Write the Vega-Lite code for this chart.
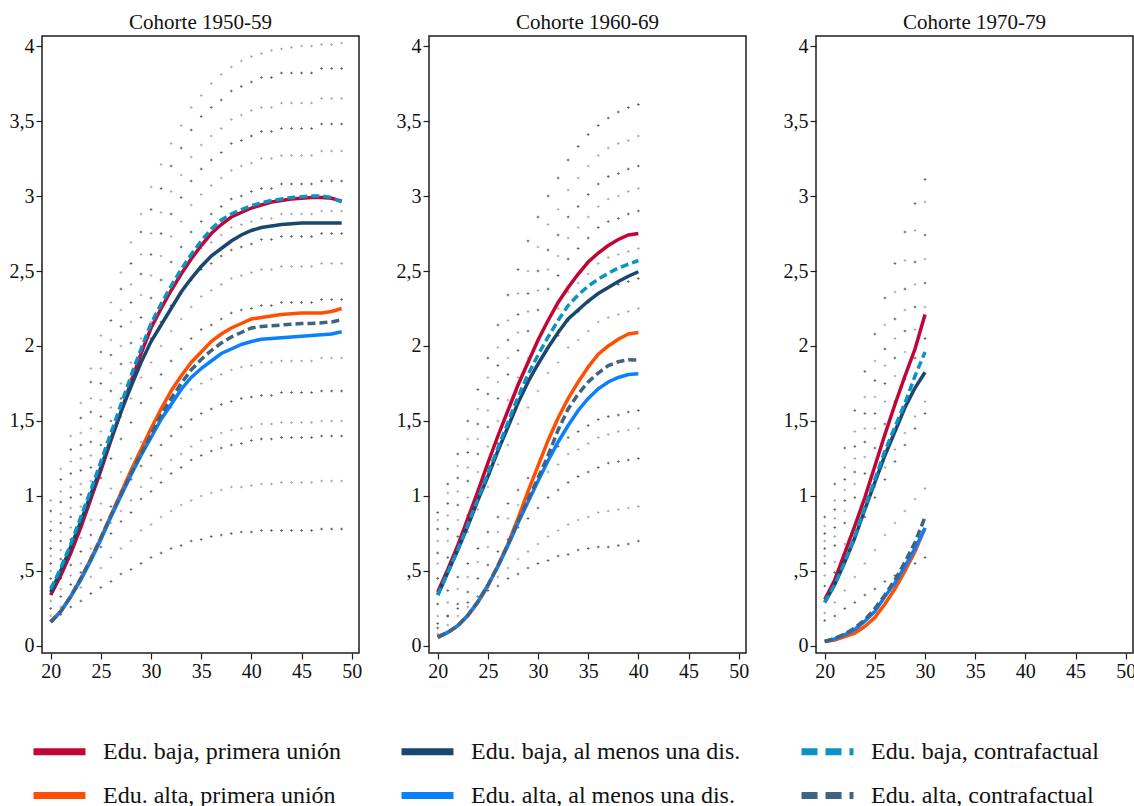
{
  "$schema": "https://vega.github.io/schema/vega-lite/v6.json",
  "padding": {"left": 8, "top": 12, "right": 0, "bottom": 0},
  "config": {
    "font": "Liberation Serif",
    "view": {"stroke": "#1e1e1e", "strokeWidth": 1.5},
    "axis": {"grid": false, "domain": false, "tickColor": "#1e1e1e", "tickSize": 6, "tickWidth": 1.2, "labelColor": "#111111", "labelFontSize": 20, "labelPadding": 2, "title": null}
  },
  "data": {"values": [
    {"c":"1950-59","a":20,"rb":0.34,"ra":0.16,"db":0.36,"da":0.16,"cb":0.38,"ca":0.16,"g1":0.17,"g2":0.20,"g3":0.25,"g4":0.30,"g5":0.35,"g6":0.40,"g7":0.45,"g8":0.50,"g9":0.55,"g10":0.60,"g11":0.65,"g12":0.70,"g13":0.77,"g14":0.83,"g15":0.90,"g16":0.97},
    {"c":"1950-59","a":21,"rb":0.47,"ra":0.23,"db":0.50,"da":0.23,"cb":0.52,"ca":0.23,"g1":0.21,"g2":0.26,"g3":0.33,"g4":0.38,"g5":0.45,"g6":0.51,"g7":0.58,"g8":0.64,"g9":0.70,"g10":0.76,"g11":0.82,"g12":0.88,"g13":0.96,"g14":1.03,"g15":1.11,"g16":1.18},
    {"c":"1950-59","a":22,"rb":0.62,"ra":0.33,"db":0.66,"da":0.33,"cb":0.68,"ca":0.33,"g1":0.26,"g2":0.33,"g3":0.41,"g4":0.47,"g5":0.54,"g6":0.61,"g7":0.71,"g8":0.79,"g9":0.86,"g10":0.92,"g11":0.99,"g12":1.06,"g13":1.15,"g14":1.23,"g15":1.31,"g16":1.40},
    {"c":"1950-59","a":23,"rb":0.79,"ra":0.45,"db":0.83,"da":0.44,"cb":0.86,"ca":0.45,"g1":0.30,"g2":0.39,"g3":0.49,"g4":0.55,"g5":0.63,"g6":0.72,"g7":0.84,"g8":0.93,"g9":1.01,"g10":1.08,"g11":1.17,"g12":1.25,"g13":1.34,"g14":1.42,"g15":1.52,"g16":1.62},
    {"c":"1950-59","a":24,"rb":0.98,"ra":0.58,"db":1.01,"da":0.57,"cb":1.04,"ca":0.58,"g1":0.35,"g2":0.46,"g3":0.58,"g4":0.65,"g5":0.74,"g6":0.84,"g7":0.99,"g8":1.10,"g9":1.19,"g10":1.27,"g11":1.36,"g12":1.45,"g13":1.56,"g14":1.65,"g15":1.76,"g16":1.85},
    {"c":"1950-59","a":25,"rb":1.17,"ra":0.72,"db":1.19,"da":0.71,"cb":1.23,"ca":0.72,"g1":0.39,"g2":0.52,"g3":0.66,"g4":0.73,"g5":0.84,"g6":0.95,"g7":1.12,"g8":1.24,"g9":1.34,"g10":1.43,"g11":1.53,"g12":1.64,"g13":1.75,"g14":1.85,"g15":1.96,"g16":2.07},
    {"c":"1950-59","a":26,"rb":1.37,"ra":0.87,"db":1.38,"da":0.86,"cb":1.42,"ca":0.87,"g1":0.43,"g2":0.59,"g3":0.75,"g4":0.82,"g5":0.93,"g6":1.05,"g7":1.25,"g8":1.38,"g9":1.50,"g10":1.59,"g11":1.70,"g12":1.82,"g13":1.94,"g14":2.04,"g15":2.17,"g16":2.29},
    {"c":"1950-59","a":27,"rb":1.56,"ra":1.02,"db":1.56,"da":1.00,"cb":1.61,"ca":1.01,"g1":0.48,"g2":0.65,"g3":0.83,"g4":0.90,"g5":1.03,"g6":1.16,"g7":1.38,"g8":1.53,"g9":1.65,"g10":1.75,"g11":1.88,"g12":2.00,"g13":2.13,"g14":2.24,"g15":2.38,"g16":2.49},
    {"c":"1950-59","a":28,"rb":1.76,"ra":1.17,"db":1.73,"da":1.14,"cb":1.80,"ca":1.15,"g1":0.51,"g2":0.70,"g3":0.89,"g4":0.97,"g5":1.11,"g6":1.25,"g7":1.49,"g8":1.65,"g9":1.78,"g10":1.89,"g11":2.02,"g12":2.16,"g13":2.29,"g14":2.41,"g15":2.55,"g16":2.69},
    {"c":"1950-59","a":29,"rb":1.95,"ra":1.31,"db":1.89,"da":1.27,"cb":1.98,"ca":1.28,"g1":0.55,"g2":0.77,"g3":0.98,"g4":1.06,"g5":1.20,"g6":1.36,"g7":1.62,"g8":1.79,"g9":1.94,"g10":2.05,"g11":2.19,"g12":2.34,"g13":2.48,"g14":2.61,"g15":2.76,"g16":2.88},
    {"c":"1950-59","a":30,"rb":2.12,"ra":1.45,"db":2.03,"da":1.39,"cb":2.15,"ca":1.41,"g1":0.59,"g2":0.81,"g3":1.03,"g4":1.12,"g5":1.27,"g6":1.43,"g7":1.72,"g8":1.89,"g9":2.05,"g10":2.16,"g11":2.32,"g12":2.47,"g13":2.61,"g14":2.75,"g15":2.91,"g16":3.06},
    {"c":"1950-59","a":31,"rb":2.25,"ra":1.58,"db":2.14,"da":1.51,"cb":2.28,"ca":1.54,"g1":0.62,"g2":0.86,"g3":1.09,"g4":1.18,"g5":1.34,"g6":1.51,"g7":1.81,"g8":2.00,"g9":2.16,"g10":2.28,"g11":2.44,"g12":2.60,"g13":2.75,"g14":2.89,"g15":3.05,"g16":3.21},
    {"c":"1950-59","a":32,"rb":2.37,"ra":1.70,"db":2.25,"da":1.61,"cb":2.40,"ca":1.65,"g1":0.65,"g2":0.90,"g3":1.15,"g4":1.24,"g5":1.40,"g6":1.59,"g7":1.90,"g8":2.10,"g9":2.27,"g10":2.39,"g11":2.56,"g12":2.73,"g13":2.88,"g14":3.03,"g15":3.20,"g16":3.35},
    {"c":"1950-59","a":33,"rb":2.48,"ra":1.80,"db":2.36,"da":1.71,"cb":2.51,"ca":1.75,"g1":0.67,"g2":0.94,"g3":1.19,"g4":1.28,"g5":1.46,"g6":1.65,"g7":1.98,"g8":2.18,"g9":2.35,"g10":2.49,"g11":2.66,"g12":2.83,"g13":2.99,"g14":3.14,"g15":3.32,"g16":3.47},
    {"c":"1950-59","a":34,"rb":2.58,"ra":1.89,"db":2.45,"da":1.79,"cb":2.61,"ca":1.84,"g1":0.70,"g2":0.97,"g3":1.24,"g4":1.33,"g5":1.51,"g6":1.71,"g7":2.05,"g8":2.26,"g9":2.44,"g10":2.58,"g11":2.76,"g12":2.94,"g13":3.10,"g14":3.26,"g15":3.44,"g16":3.59},
    {"c":"1950-59","a":35,"rb":2.67,"ra":1.96,"db":2.53,"da":1.85,"cb":2.70,"ca":1.91,"g1":0.71,"g2":1.00,"g3":1.27,"g4":1.37,"g5":1.55,"g6":1.75,"g7":2.11,"g8":2.33,"g9":2.51,"g10":2.65,"g11":2.83,"g12":3.01,"g13":3.18,"g14":3.34,"g15":3.53,"g16":3.67},
    {"c":"1950-59","a":36,"rb":2.75,"ra":2.03,"db":2.60,"da":1.90,"cb":2.78,"ca":1.97,"g1":0.73,"g2":1.02,"g3":1.30,"g4":1.39,"g5":1.58,"g6":1.78,"g7":2.14,"g8":2.37,"g9":2.55,"g10":2.69,"g11":2.88,"g12":3.07,"g13":3.24,"g14":3.40,"g15":3.59,"g16":3.75},
    {"c":"1950-59","a":37,"rb":2.81,"ra":2.08,"db":2.65,"da":1.95,"cb":2.84,"ca":2.02,"g1":0.74,"g2":1.04,"g3":1.32,"g4":1.42,"g5":1.61,"g6":1.81,"g7":2.18,"g8":2.41,"g9":2.60,"g10":2.74,"g11":2.93,"g12":3.12,"g13":3.29,"g14":3.45,"g15":3.64,"g16":3.81},
    {"c":"1950-59","a":38,"rb":2.86,"ra":2.12,"db":2.70,"da":1.98,"cb":2.88,"ca":2.06,"g1":0.75,"g2":1.06,"g3":1.34,"g4":1.44,"g5":1.63,"g6":1.84,"g7":2.22,"g8":2.45,"g9":2.64,"g10":2.79,"g11":2.98,"g12":3.17,"g13":3.35,"g14":3.51,"g15":3.70,"g16":3.86},
    {"c":"1950-59","a":39,"rb":2.89,"ra":2.15,"db":2.74,"da":2.01,"cb":2.91,"ca":2.09,"g1":0.76,"g2":1.06,"g3":1.35,"g4":1.45,"g5":1.65,"g6":1.86,"g7":2.24,"g8":2.47,"g9":2.66,"g10":2.81,"g11":3.00,"g12":3.20,"g13":3.37,"g14":3.54,"g15":3.73,"g16":3.90},
    {"c":"1950-59","a":40,"rb":2.92,"ra":2.18,"db":2.77,"da":2.03,"cb":2.935,"ca":2.12,"g1":0.76,"g2":1.07,"g3":1.37,"g4":1.46,"g5":1.66,"g6":1.87,"g7":2.25,"g8":2.49,"g9":2.68,"g10":2.83,"g11":3.03,"g12":3.22,"g13":3.40,"g14":3.57,"g15":3.76,"g16":3.93},
    {"c":"1950-59","a":41,"rb":2.94,"ra":2.19,"db":2.79,"da":2.045,"cb":2.955,"ca":2.13,"g1":0.77,"g2":1.08,"g3":1.38,"g4":1.48,"g5":1.67,"g6":1.89,"g7":2.27,"g8":2.51,"g9":2.71,"g10":2.85,"g11":3.05,"g12":3.25,"g13":3.43,"g14":3.59,"g15":3.79,"g16":3.95},
    {"c":"1950-59","a":42,"rb":2.96,"ra":2.20,"db":2.80,"da":2.05,"cb":2.97,"ca":2.135,"g1":0.77,"g2":1.08,"g3":1.38,"g4":1.48,"g5":1.67,"g6":1.89,"g7":2.27,"g8":2.51,"g9":2.71,"g10":2.85,"g11":3.05,"g12":3.25,"g13":3.43,"g14":3.59,"g15":3.79,"g16":3.97},
    {"c":"1950-59","a":43,"rb":2.97,"ra":2.21,"db":2.81,"da":2.055,"cb":2.98,"ca":2.14,"g1":0.77,"g2":1.09,"g3":1.39,"g4":1.49,"g5":1.69,"g6":1.90,"g7":2.29,"g8":2.53,"g9":2.73,"g10":2.88,"g11":3.08,"g12":3.27,"g13":3.45,"g14":3.62,"g15":3.82,"g16":3.98},
    {"c":"1950-59","a":44,"rb":2.98,"ra":2.215,"db":2.815,"da":2.06,"cb":2.99,"ca":2.145,"g1":0.77,"g2":1.09,"g3":1.39,"g4":1.49,"g5":1.69,"g6":1.90,"g7":2.29,"g8":2.53,"g9":2.73,"g10":2.88,"g11":3.08,"g12":3.27,"g13":3.45,"g14":3.62,"g15":3.82,"g16":3.99},
    {"c":"1950-59","a":45,"rb":2.985,"ra":2.22,"db":2.82,"da":2.065,"cb":2.995,"ca":2.15,"g1":0.77,"g2":1.09,"g3":1.39,"g4":1.49,"g5":1.69,"g6":1.90,"g7":2.29,"g8":2.53,"g9":2.73,"g10":2.88,"g11":3.08,"g12":3.27,"g13":3.45,"g14":3.62,"g15":3.82,"g16":4.00},
    {"c":"1950-59","a":46,"rb":2.99,"ra":2.22,"db":2.82,"da":2.07,"cb":3.0,"ca":2.15,"g1":0.77,"g2":1.09,"g3":1.39,"g4":1.49,"g5":1.69,"g6":1.90,"g7":2.29,"g8":2.53,"g9":2.73,"g10":2.88,"g11":3.08,"g12":3.27,"g13":3.45,"g14":3.62,"g15":3.82,"g16":4.00},
    {"c":"1950-59","a":47,"rb":2.99,"ra":2.22,"db":2.82,"da":2.075,"cb":3.0,"ca":2.155,"g1":0.78,"g2":1.10,"g3":1.40,"g4":1.50,"g5":1.70,"g6":1.92,"g7":2.31,"g8":2.55,"g9":2.75,"g10":2.90,"g11":3.10,"g12":3.30,"g13":3.48,"g14":3.65,"g15":3.85,"g16":4.01},
    {"c":"1950-59","a":48,"rb":2.985,"ra":2.23,"db":2.82,"da":2.08,"cb":2.99,"ca":2.16,"g1":0.78,"g2":1.10,"g3":1.40,"g4":1.50,"g5":1.70,"g6":1.92,"g7":2.31,"g8":2.55,"g9":2.75,"g10":2.90,"g11":3.10,"g12":3.30,"g13":3.48,"g14":3.65,"g15":3.85,"g16":4.01},
    {"c":"1950-59","a":49,"rb":2.965,"ra":2.25,"db":2.82,"da":2.095,"cb":2.96,"ca":2.175,"g1":0.78,"g2":1.10,"g3":1.40,"g4":1.50,"g5":1.70,"g6":1.92,"g7":2.31,"g8":2.55,"g9":2.75,"g10":2.90,"g11":3.10,"g12":3.30,"g13":3.48,"g14":3.65,"g15":3.85,"g16":4.02},
    {"c":"1960-69","a":20,"rb":0.36,"ra":0.055,"db":0.34,"da":0.06,"cb":0.34,"ca":0.06,"g1":0.15,"g2":0.08,"g3":0.12,"g4":0.20,"g5":0.28,"g6":0.36,"g7":0.45,"g8":0.55,"g9":0.62,"g10":0.70,"g11":0.78,"g12":0.84,"g13":0.89},
    {"c":"1960-69","a":21,"rb":0.51,"ra":0.09,"db":0.49,"da":0.09,"cb":0.49,"ca":0.09,"g1":0.20,"g2":0.14,"g3":0.20,"g4":0.29,"g5":0.37,"g6":0.49,"g7":0.59,"g8":0.70,"g9":0.78,"g10":0.87,"g11":0.95,"g12":1.02,"g13":1.08},
    {"c":"1960-69","a":22,"rb":0.67,"ra":0.135,"db":0.64,"da":0.135,"cb":0.64,"ca":0.135,"g1":0.25,"g2":0.20,"g3":0.28,"g4":0.38,"g5":0.46,"g6":0.63,"g7":0.73,"g8":0.84,"g9":0.94,"g10":1.03,"g11":1.12,"g12":1.20,"g13":1.28},
    {"c":"1960-69","a":23,"rb":0.85,"ra":0.20,"db":0.80,"da":0.205,"cb":0.81,"ca":0.205,"g1":0.29,"g2":0.26,"g3":0.36,"g4":0.46,"g5":0.55,"g6":0.76,"g7":0.87,"g8":0.99,"g9":1.10,"g10":1.19,"g11":1.29,"g12":1.38,"g13":1.50},
    {"c":"1960-69","a":24,"rb":1.03,"ra":0.29,"db":0.97,"da":0.295,"cb":0.98,"ca":0.295,"g1":0.33,"g2":0.33,"g3":0.45,"g4":0.56,"g5":0.65,"g6":0.91,"g7":1.03,"g8":1.16,"g9":1.28,"g10":1.38,"g11":1.48,"g12":1.58,"g13":1.71},
    {"c":"1960-69","a":25,"rb":1.22,"ra":0.40,"db":1.13,"da":0.405,"cb":1.15,"ca":0.405,"g1":0.37,"g2":0.39,"g3":0.54,"g4":0.66,"g5":0.76,"g6":1.06,"g7":1.19,"g8":1.33,"g9":1.46,"g10":1.57,"g11":1.68,"g12":1.79,"g13":1.92},
    {"c":"1960-69","a":26,"rb":1.40,"ra":0.535,"db":1.30,"da":0.53,"cb":1.32,"ca":0.535,"g1":0.40,"g2":0.46,"g3":0.63,"g4":0.76,"g5":0.86,"g6":1.21,"g7":1.35,"g8":1.50,"g9":1.65,"g10":1.76,"g11":1.87,"g12":1.99,"g13":2.14},
    {"c":"1960-69","a":27,"rb":1.57,"ra":0.68,"db":1.46,"da":0.67,"cb":1.49,"ca":0.675,"g1":0.45,"g2":0.52,"g3":0.71,"g4":0.85,"g5":0.95,"g6":1.34,"g7":1.49,"g8":1.64,"g9":1.81,"g10":1.92,"g11":2.04,"g12":2.17,"g13":2.34},
    {"c":"1960-69","a":28,"rb":1.74,"ra":0.85,"db":1.62,"da":0.82,"cb":1.66,"ca":0.83,"g1":0.48,"g2":0.58,"g3":0.79,"g4":0.94,"g5":1.04,"g6":1.48,"g7":1.63,"g8":1.79,"g9":1.97,"g10":2.09,"g11":2.21,"g12":2.35,"g13":2.51},
    {"c":"1960-69","a":29,"rb":1.89,"ra":1.03,"db":1.76,"da":0.96,"cb":1.81,"ca":0.975,"g1":0.52,"g2":0.63,"g3":0.85,"g4":1.01,"g5":1.12,"g6":1.59,"g7":1.75,"g8":1.92,"g9":2.10,"g10":2.23,"g11":2.35,"g12":2.50,"g13":2.70},
    {"c":"1960-69","a":30,"rb":2.04,"ra":1.20,"db":1.88,"da":1.10,"cb":1.94,"ca":1.12,"g1":0.55,"g2":0.68,"g3":0.92,"g4":1.09,"g5":1.20,"g6":1.70,"g7":1.87,"g8":2.04,"g9":2.24,"g10":2.37,"g11":2.50,"g12":2.66,"g13":2.86},
    {"c":"1960-69","a":31,"rb":2.17,"ra":1.37,"db":1.99,"da":1.235,"cb":2.06,"ca":1.27,"g1":0.57,"g2":0.73,"g3":0.99,"g4":1.16,"g5":1.27,"g6":1.82,"g7":1.99,"g8":2.17,"g9":2.38,"g10":2.51,"g11":2.64,"g12":2.81,"g13":3.00},
    {"c":"1960-69","a":32,"rb":2.29,"ra":1.52,"db":2.09,"da":1.36,"cb":2.17,"ca":1.44,"g1":0.60,"g2":0.77,"g3":1.04,"g4":1.21,"g5":1.33,"g6":1.89,"g7":2.07,"g8":2.25,"g9":2.47,"g10":2.60,"g11":2.74,"g12":2.91,"g13":3.12},
    {"c":"1960-69","a":33,"rb":2.39,"ra":1.65,"db":2.18,"da":1.47,"cb":2.27,"ca":1.58,"g1":0.61,"g2":0.81,"g3":1.09,"g4":1.28,"g5":1.39,"g6":1.99,"g7":2.17,"g8":2.36,"g9":2.58,"g10":2.72,"g11":2.86,"g12":3.04,"g13":3.24},
    {"c":"1960-69","a":34,"rb":2.48,"ra":1.76,"db":2.24,"da":1.57,"cb":2.34,"ca":1.68,"g1":0.64,"g2":0.84,"g3":1.13,"g4":1.31,"g5":1.43,"g6":2.04,"g7":2.23,"g8":2.42,"g9":2.65,"g10":2.79,"g11":2.93,"g12":3.12,"g13":3.33},
    {"c":"1960-69","a":35,"rb":2.56,"ra":1.86,"db":2.30,"da":1.65,"cb":2.40,"ca":1.76,"g1":0.65,"g2":0.86,"g3":1.16,"g4":1.35,"g5":1.47,"g6":2.10,"g7":2.29,"g8":2.48,"g9":2.72,"g10":2.86,"g11":3.01,"g12":3.20,"g13":3.41},
    {"c":"1960-69","a":36,"rb":2.62,"ra":1.945,"db":2.35,"da":1.715,"cb":2.445,"ca":1.82,"g1":0.66,"g2":0.89,"g3":1.19,"g4":1.39,"g5":1.51,"g6":2.16,"g7":2.35,"g8":2.55,"g9":2.79,"g10":2.93,"g11":3.08,"g12":3.27,"g13":3.47},
    {"c":"1960-69","a":37,"rb":2.67,"ra":2.0,"db":2.39,"da":1.76,"cb":2.485,"ca":1.87,"g1":0.66,"g2":0.90,"g3":1.22,"g4":1.41,"g5":1.53,"g6":2.19,"g7":2.39,"g8":2.59,"g9":2.83,"g10":2.98,"g11":3.13,"g12":3.32,"g13":3.52},
    {"c":"1960-69","a":38,"rb":2.71,"ra":2.045,"db":2.43,"da":1.79,"cb":2.52,"ca":1.895,"g1":0.67,"g2":0.91,"g3":1.23,"g4":1.43,"g5":1.54,"g6":2.21,"g7":2.41,"g8":2.61,"g9":2.85,"g10":3.00,"g11":3.15,"g12":3.35,"g13":3.56},
    {"c":"1960-69","a":39,"rb":2.74,"ra":2.08,"db":2.465,"da":1.81,"cb":2.545,"ca":1.908,"g1":0.68,"g2":0.92,"g3":1.24,"g4":1.44,"g5":1.56,"g6":2.23,"g7":2.43,"g8":2.63,"g9":2.88,"g10":3.03,"g11":3.18,"g12":3.37,"g13":3.59},
    {"c":"1960-69","a":40,"rb":2.75,"ra":2.09,"db":2.495,"da":1.815,"cb":2.57,"ca":1.907,"g1":0.70,"g2":0.93,"g3":1.25,"g4":1.45,"g5":1.57,"g6":2.25,"g7":2.45,"g8":2.65,"g9":2.90,"g10":3.05,"g11":3.20,"g12":3.40,"g13":3.61},
    {"c":"1970-79","a":20,"rb":0.31,"ra":0.03,"db":0.29,"da":0.03,"cb":0.29,"ca":0.03,"g1":0.17,"g2":0.22,"g3":0.40,"g4":0.47,"g5":0.55,"g6":0.60,"g7":0.65,"g8":0.70,"g9":0.75,"g10":0.80,"g11":0.86},
    {"c":"1970-79","a":21,"rb":0.44,"ra":0.04,"db":0.41,"da":0.047,"cb":0.41,"ca":0.05,"g1":0.20,"g2":0.29,"g3":0.49,"g4":0.56,"g5":0.67,"g6":0.73,"g7":0.79,"g8":0.85,"g9":0.91,"g10":0.97,"g11":1.08},
    {"c":"1970-79","a":22,"rb":0.62,"ra":0.063,"db":0.56,"da":0.075,"cb":0.56,"ca":0.08,"g1":0.25,"g2":0.37,"g3":0.61,"g4":0.68,"g5":0.82,"g6":0.90,"g7":0.97,"g8":1.04,"g9":1.11,"g10":1.19,"g11":1.32},
    {"c":"1970-79","a":23,"rb":0.80,"ra":0.086,"db":0.72,"da":0.11,"cb":0.73,"ca":0.12,"g1":0.29,"g2":0.46,"g3":0.73,"g4":0.81,"g5":0.99,"g6":1.08,"g7":1.16,"g8":1.25,"g9":1.33,"g10":1.43,"g11":1.57},
    {"c":"1970-79","a":24,"rb":0.99,"ra":0.13,"db":0.91,"da":0.165,"cb":0.92,"ca":0.175,"g1":0.34,"g2":0.55,"g3":0.86,"g4":0.93,"g5":1.15,"g6":1.26,"g7":1.36,"g8":1.45,"g9":1.55,"g10":1.66,"g11":1.83},
    {"c":"1970-79","a":25,"rb":1.20,"ra":0.19,"db":1.09,"da":0.23,"cb":1.11,"ca":0.25,"g1":0.38,"g2":0.64,"g3":0.99,"g4":1.06,"g5":1.32,"g6":1.45,"g7":1.55,"g8":1.66,"g9":1.77,"g10":1.90,"g11":2.08},
    {"c":"1970-79","a":26,"rb":1.41,"ra":0.28,"db":1.27,"da":0.33,"cb":1.30,"ca":0.34,"g1":0.43,"g2":0.74,"g3":1.11,"g4":1.19,"g5":1.48,"g6":1.63,"g7":1.75,"g8":1.87,"g9":1.98,"g10":2.14,"g11":2.32},
    {"c":"1970-79","a":27,"rb":1.61,"ra":0.38,"db":1.43,"da":0.42,"cb":1.46,"ca":0.44,"g1":0.47,"g2":0.82,"g3":1.23,"g4":1.31,"g5":1.63,"g6":1.80,"g7":1.92,"g8":2.05,"g9":2.18,"g10":2.36,"g11":2.55},
    {"c":"1970-79","a":28,"rb":1.80,"ra":0.50,"db":1.59,"da":0.53,"cb":1.62,"ca":0.56,"g1":0.51,"g2":0.90,"g3":1.34,"g4":1.42,"g5":1.78,"g6":1.96,"g7":2.10,"g8":2.24,"g9":2.38,"g10":2.57,"g11":2.76},
    {"c":"1970-79","a":29,"rb":1.98,"ra":0.63,"db":1.72,"da":0.65,"cb":1.80,"ca":0.69,"g1":0.55,"g2":0.98,"g3":1.45,"g4":1.53,"g5":1.92,"g6":2.11,"g7":2.26,"g8":2.41,"g9":2.56,"g10":2.77,"g11":2.95},
    {"c":"1970-79","a":30,"rb":2.21,"ra":0.786,"db":1.825,"da":0.786,"cb":1.96,"ca":0.86,"g1":0.59,"g2":1.05,"g3":1.55,"g4":1.63,"g5":2.05,"g6":2.26,"g7":2.42,"g8":2.58,"g9":2.74,"g10":2.96,"g11":3.11}
  ]},
  "facet": {"column": {"field": "c", "type": "nominal", "header": {"title": null, "labelExpr": "'Cohorte ' + datum.value", "labelFontSize": 21, "labelColor": "#111111", "labelPadding": 3}}},
  "spacing": 70,
  "bounds": "flush",
  "resolve": {"axis": {"y": "independent", "x": "independent"}},
  "spec": {
    "width": 317,
    "height": 617,
    "layer": [
      {
        "transform": [{"fold": ["g1","g3","g5","g7","g9","g11","g13","g15"], "as": ["k","v"]}, {"filter": "isValid(datum.v)"}],
        "mark": {"type": "point", "shape": "cross", "filled": true, "size": 7, "color": "#555555", "opacity": 0.9},
        "encoding": {
          "x": {"field": "a", "type": "quantitative", "scale": {"domain": [19.13, 50.73], "nice": false, "zero": false}, "axis": {"values": [20,25,30,35,40,45,50]}},
          "y": {"field": "v", "type": "quantitative", "scale": {"domain": [-0.047, 4.067], "nice": false, "zero": false}, "axis": {"values": [0,0.5,1,1.5,2,2.5,3,3.5,4], "labelExpr": "datum.value == 0 ? '0' : replace(replace(format(datum.value, '~g'), '0.', '.'), '.', ',')"}}
        }
      },
      {
        "transform": [{"fold": ["g2","g4","g6","g8","g10","g12","g14","g16"], "as": ["k","v"]}, {"filter": "isValid(datum.v)"}],
        "mark": {"type": "point", "shape": "cross", "filled": true, "size": 7, "color": "#a0a0a0", "opacity": 0.9},
        "encoding": {
          "x": {"field": "a", "type": "quantitative"},
          "y": {"field": "v", "type": "quantitative"}
        }
      },
      {
        "transform": [{"fold": ["ra","da","rb","db"], "as": ["s","v"]}, {"filter": "isValid(datum.v)"}],
        "mark": {"type": "line", "strokeWidth": 3.5},
        "encoding": {
          "x": {"field": "a", "type": "quantitative"},
          "y": {"field": "v", "type": "quantitative"},
          "color": {"field": "s", "type": "nominal",
            "scale": {"domain": ["rb","db","cb","ra","da","ca"], "range": ["#C10534","#1A476F","#0A93C4","#FF4F00","#0A80FF","#3E6481"]},
            "legend": {"title": null, "orient": "none", "legendX": -12, "legendY": 686, "direction": "horizontal", "columns": 3, "columnPadding": 46, "rowPadding": -9, "symbolType": "stroke", "symbolSize": 2700, "symbolStrokeWidth": 7, "labelFontSize": 24, "labelColor": "#111111", "labelOffset": 14, "labelLimit": 400,
              "labelExpr": "{'rb':'Edu. baja, primera unión','db':'Edu. baja, al menos una dis.','cb':'Edu. baja, contrafactual','ra':'Edu. alta, primera unión','da':'Edu. alta, al menos una dis.','ca':'Edu. alta, contrafactual'}[datum.value]",
              "encode": {"symbols": {"update": {"strokeDash": {"signal": "(datum.value == 'cb' || datum.value == 'ca') ? [16, 8] : [1, 0]"}}}}}}
        }
      },
      {
        "transform": [{"fold": ["ca","cb"], "as": ["s","v"]}, {"filter": "isValid(datum.v)"}],
        "mark": {"type": "line", "strokeWidth": 3.5, "strokeDash": [8, 4]},
        "encoding": {
          "x": {"field": "a", "type": "quantitative"},
          "y": {"field": "v", "type": "quantitative"},
          "color": {"field": "s", "type": "nominal"}
        }
      }
    ]
  }
}
